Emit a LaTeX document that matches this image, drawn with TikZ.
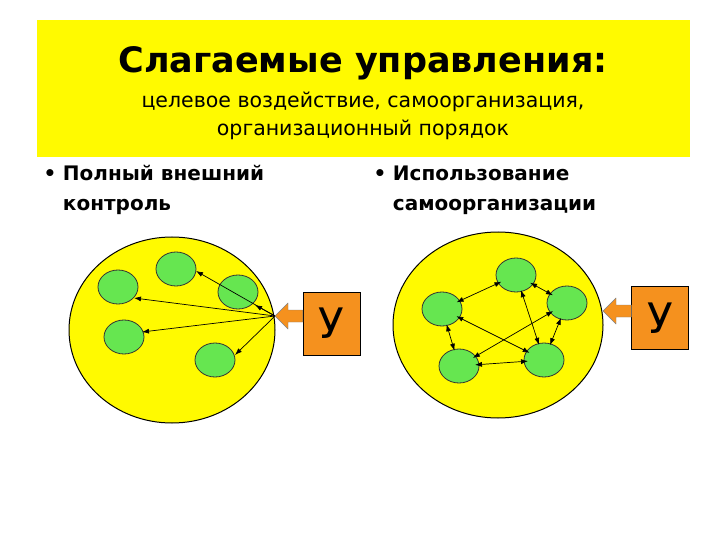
\documentclass[tikz,border=0pt]{standalone}
\usepackage{fontspec}
\setmainfont{DejaVu Sans}
\usetikzlibrary{arrows.meta}
\definecolor{cellgreen}{RGB}{102,230,80}
\definecolor{uorange}{RGB}{245,145,30}
\definecolor{byellow}{RGB}{255,250,0}
\begin{document}
\begin{tikzpicture}[x=1pt,y=-1pt,
  cell/.style={draw=black!80,line width=0.8pt,fill=cellgreen},
  uarr/.style={-{Latex[length=7pt,width=5pt]},line width=0.7pt},
  barr/.style={{Latex[length=7pt,width=5pt]}-{Latex[length=7pt,width=5pt]},line width=0.7pt},
  ubox/.style={draw=black,fill=uorange,minimum width=57pt,minimum height=63pt,inner sep=0pt,font=\fontsize{42}{42}\selectfont},
  barrow/.style={fill=uorange,draw=black!50},
  bullet/.style={anchor=north west,align=left,font=\fontsize{20}{30}\selectfont\bfseries}
]
\useasboundingbox (0,0) rectangle (720,540);
\fill[white] (0,0) rectangle (720,540);
\fill[byellow] (37,20) rectangle (690,157);
\node (title) at (363,63) {\fontsize{35}{35}\selectfont\bfseries Слагаемые управления:};
\node[align=center,font=\fontsize{20.5}{28}\selectfont] (sub) at (363,116) {целевое воздействие, самоорганизация,\\организационный порядок};
\node[bullet] (b1) at (40,162) {•\,\,Полный внешний\\\phantom{•\,\,}контроль};
\node[bullet] (b2) at (370,162) {•\,\,Использование\\\phantom{•\,\,}самоорганизации};
% left
\filldraw[fill=byellow,draw=black,line width=1pt] (172,330) ellipse [x radius=103, y radius=93];
\foreach \n/\x/\y in {A/118/287,B/176/269,C/238/292,D/124/337,E/215/360}{
  \filldraw[cell] (\x,\y) ellipse [x radius=20, y radius=17];
  \coordinate (\n) at (\x,\y);}
\coordinate (P) at (275,316);
\draw[uarr] (P) -- (134,298);
\draw[uarr] (P) -- (196,271);
\draw[uarr] (P) -- (255,305);
\draw[uarr] (P) -- (142,332);
\draw[uarr] (P) -- (235,355);
\node[ubox] (U1) at (331.5,323.5) {У};
\filldraw[barrow] (U1.west|-0,310) -- (288,310) -- (288,303) -- (275,316) -- (288,329) -- (288,322) -- (U1.west|-0,322) -- cycle;
% right
\filldraw[fill=byellow,draw=black,line width=1pt] (498,325) ellipse [x radius=105, y radius=93];
\foreach \n/\x/\y in {T/516/275,L/442/309,R/567/303,BL/459/366,BR/544/360}{
  \filldraw[cell] (\x,\y) ellipse [x radius=20, y radius=17];
  \coordinate (\n) at (\x,\y);}
\foreach \a/\b in {T/L,T/R,T/BR,L/BL,L/BR,R/BL,R/BR,BL/BR}{
  \draw[barr,shorten <=16pt,shorten >=16pt] (\a) -- (\b);}
\node[ubox] (U2) at (660,318) {У};
\filldraw[barrow] (U2.west|-0,305) -- (616,305) -- (616,298) -- (603,311) -- (616,324) -- (616,317) -- (U2.west|-0,317) -- cycle;
\end{tikzpicture}
\end{document}
